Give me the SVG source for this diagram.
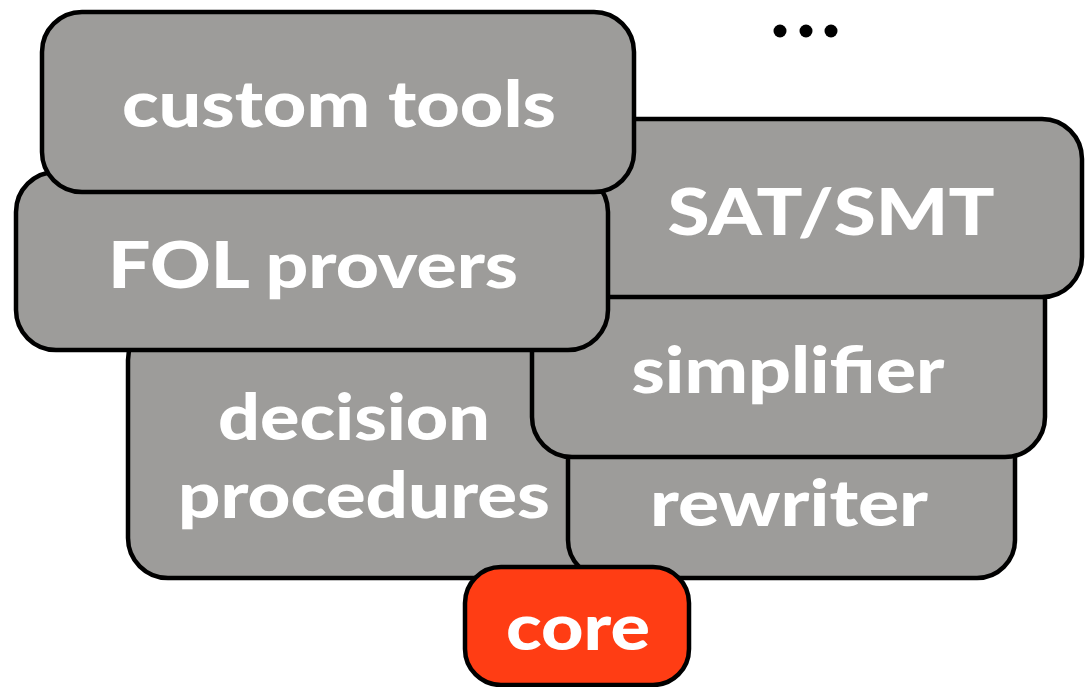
<svg xmlns="http://www.w3.org/2000/svg" width="1085" height="687" viewBox="0 0 1085 687">
<style>
.box{fill:#9d9c9a;stroke:#000;stroke-width:4.5}
.core{fill:#ff3d14;stroke:#000;stroke-width:4.5}
.t{font-family:Lato,"Open Sans","Liberation Sans",sans-serif;font-weight:900;fill:#fff;text-anchor:middle;font-size:64px}
</style>
<rect width="1085" height="687" fill="#fff"/>
<g id="connectors"></g>
<g id="decision">
<rect class="box" x="128" y="320" width="480" height="258" rx="40"/>
<text class="t" x="354" y="440" textLength="272" lengthAdjust="spacingAndGlyphs">decision</text>
<text class="t" x="364" y="518" textLength="372" lengthAdjust="spacingAndGlyphs">procedures</text>
</g>
<g id="rewriter">
<rect class="box" x="568" y="420" width="447" height="158" rx="38"/>
<text class="t" x="789" y="526" textLength="278" lengthAdjust="spacingAndGlyphs">rewriter</text>
</g>
<g id="simplifier">
<rect class="box" x="532" y="260" width="513" height="197" rx="40"/>
<text class="t" x="788" y="393" textLength="313" lengthAdjust="spacingAndGlyphs">simplifier</text>
</g>
<g id="satsmt">
<rect class="box" x="560" y="119" width="522" height="178" rx="40"/>
<text class="t" x="831" y="235" textLength="327" lengthAdjust="spacingAndGlyphs">SAT/SMT</text>
</g>
<g id="fol">
<rect class="box" x="16" y="172" width="592" height="178" rx="40"/>
<text class="t" x="313" y="288" textLength="410" lengthAdjust="spacingAndGlyphs">FOL provers</text>
</g>
<g id="custom">
<rect class="box" x="42" y="12" width="592" height="180" rx="40"/>
<text class="t" x="339" y="127" textLength="434" lengthAdjust="spacingAndGlyphs">custom tools</text>
</g>
<g id="core">
<rect class="core" x="465" y="567" width="224" height="118" rx="36"/>
<text class="t" x="578" y="650" textLength="144" lengthAdjust="spacingAndGlyphs">core</text>
</g>
<g id="ellipsis" fill="#000">
<circle cx="780" cy="31" r="6.5"/>
<circle cx="806" cy="31" r="6.5"/>
<circle cx="831" cy="31" r="6.5"/>
</g>
</svg>
